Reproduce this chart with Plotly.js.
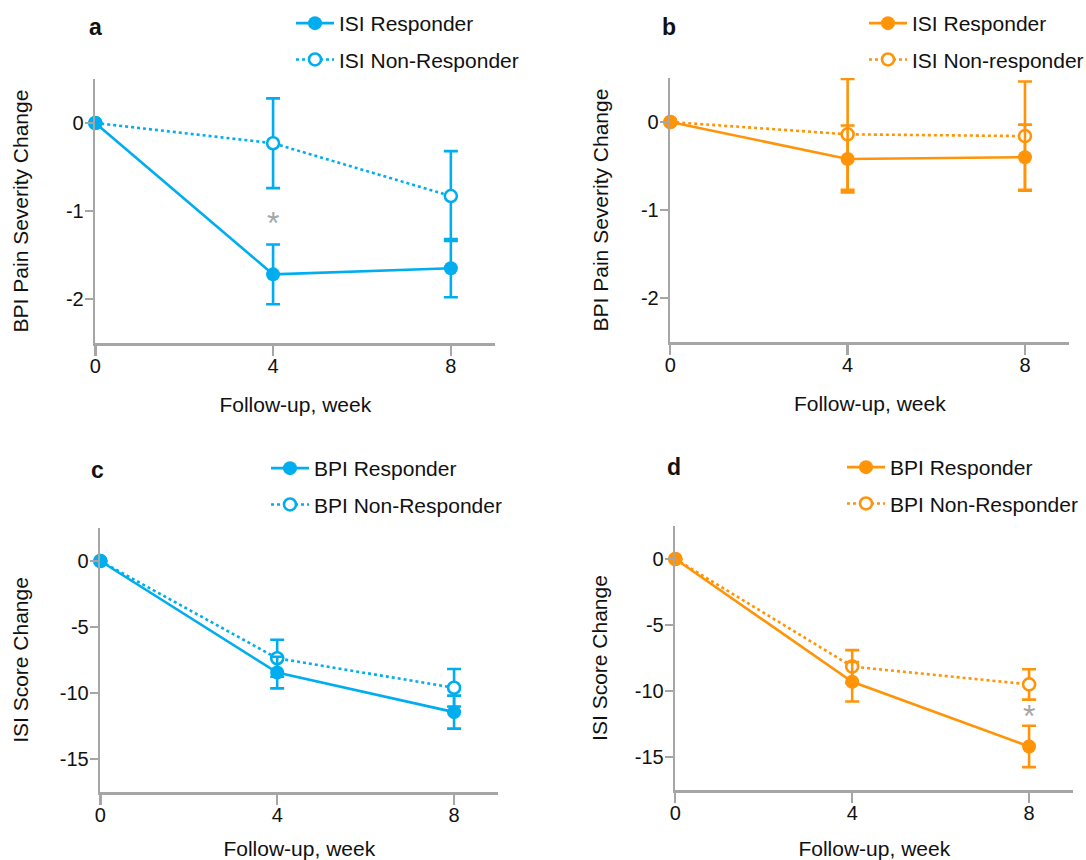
<!DOCTYPE html>
<html>
<head>
<meta charset="utf-8">
<script src="https://cdn.plot.ly/plotly-3.0.1.min.js"></script>
<style>html,body{margin:0;padding:0;background:#fff;overflow:hidden;}#chart{width:1086px;height:860px;}</style>
</head>
<body>
<div id="chart"></div>
<script>
// ---- data ----
const weeks = [0, 4, 8];
const tickWeeks = [0, 4, 8];

// a: BPI pain severity change by ISI response (blue)
const aResp = [0, -1.72, -1.65];
const aRespErr = [0, 0.34, 0.33];
const aNon = [0, -0.23, -0.83];
const aNonErr = [0, 0.51, 0.51];

// b: BPI pain severity change by ISI response (orange)
const bResp = [0, -0.42, -0.40];
const bRespErr = [0, 0.38, 0.37];
const bNon = [0, -0.14, -0.16];
const bNonErr = [0, 0.63, 0.62];

// c: ISI score change by BPI response (blue)
const cResp = [0, -8.45, -11.45];
const cRespErr = [0, 1.2, 1.25];
const cNon = [0, -7.37, -9.6];
const cNonErr = [0, 1.4, 1.42];

// d: ISI score change by BPI response (orange)
const dResp = [0, -9.3, -14.2];
const dRespErr = [0, 1.5, 1.57];
const dNon = [0, -8.15, -9.5];
const dNonErr = [0, 1.25, 1.15];

const legendNames = {
  a: ["ISI Responder", "ISI Non-Responder"],
  b: ["ISI Responder", "ISI Non-responder"],
  c: ["BPI Responder", "BPI Non-Responder"],
  d: ["BPI Responder", "BPI Non-Responder"]
};
const bpiTicks = [0, -1, -2];
const bpiTickText = ["0", "-1", "-2"];
const isiTicks = [0, -5, -10, -15];
const isiTickText = ["0", "-5", "-10", "-15"];

// significance markers
const starA = {x: 4, y: -1.14};
const starD = {x: 8, y: -11.9};

// ---- style ----
const BLUE = "#00AEEF";
const ORANGE = "#FF9408";
const GREY = "#A6A6A6";
const FONT = "Liberation Sans, Arial, Helvetica, sans-serif";
const W = 1086, H = 860;
const px = v => v / W;
const py = v => 1 - v / H;

function pair(xa, ya, leg, color, resp, respErr, non, nonErr, names) {
  const common = {
    x: weeks, xaxis: xa, yaxis: ya, legend: leg, mode: "lines+markers",
    cliponaxis: false, hoverinfo: "skip"
  };
  // non-responder drawn first so the responder sits on top; legend order kept by legendrank
  return [
    Object.assign({}, common, {
      y: non, name: names[1], legendgroup: leg + "n", legendrank: 2,
      line: {color: color, width: 2.6, dash: "dot"},
      marker: {symbol: "circle", size: 12, color: "#ffffff", line: {color: color, width: 2.6}},
      error_y: {type: "data", array: nonErr, visible: true, color: color, thickness: 2.6, width: 7}
    }),
    Object.assign({}, common, {
      y: resp, name: names[0], legendgroup: leg + "r", legendrank: 1,
      line: {color: color, width: 2.6},
      marker: {symbol: "circle", size: 14, color: color},
      error_y: {type: "data", array: respErr, visible: true, color: color, thickness: 2.6, width: 7}
    })
  ];
}

const data = [].concat(
  pair("x", "y", "legend", BLUE, aResp, aRespErr, aNon, aNonErr, legendNames.a),
  pair("x2", "y2", "legend2", ORANGE, bResp, bRespErr, bNon, bNonErr, legendNames.b),
  pair("x3", "y3", "legend3", BLUE, cResp, cRespErr, cNon, cNonErr, legendNames.c),
  pair("x4", "y4", "legend4", ORANGE, dResp, dRespErr, dNon, dNonErr, legendNames.d)
);

function xax(d0, d1, anchor) {
  return {
    domain: [px(d0), px(d1)], anchor: anchor, range: [0, 9],
    tickmode: "array", tickvals: tickWeeks, ticktext: tickWeeks.map(String),
    showline: true, linecolor: GREY, linewidth: 2.6,
    ticks: "outside", ticklen: 10, tickwidth: 2.4, tickcolor: GREY,
    ticklabelstandoff: -7,
    showgrid: false, zeroline: false, automargin: false,
    tickfont: {family: FONT, size: 20, color: "#111"},
    title: {text: "Follow-up, week", font: {family: FONT, size: 21, color: "#111"}, standoff: 22}
  };
}
function yax(d0, d1, anchor, range, tv, tt, title, so) {
  return {
    domain: [py(d1), py(d0)], anchor: anchor, range: range,
    tickmode: "array", tickvals: tv, ticktext: tt,
    showline: true, linecolor: GREY, linewidth: 2.6,
    ticks: "outside", ticklen: 8, tickwidth: 2.4, tickcolor: GREY,
    ticklabelstandoff: -3,
    showgrid: false, zeroline: false, automargin: false,
    tickfont: {family: FONT, size: 20, color: "#111"},
    title: {text: title, font: {family: FONT, size: 21, color: "#111"}, standoff: so}
  };
}
function leg(x, y) {
  return {
    x: px(x), y: py(y), xanchor: "left", yanchor: "top",
    bgcolor: "rgba(0,0,0,0)", borderwidth: 0,
    font: {family: FONT, size: 21, color: "#111"},
    itemwidth: 38, traceorder: "grouped", tracegroupgap: 6
  };
}
function letter(t, x, y) {
  return {text: "<b>" + t + "</b>", xref: "paper", yref: "paper", x: px(x), y: py(y),
    xanchor: "center", yanchor: "middle", showarrow: false,
    font: {family: FONT, size: 23, color: "#111"}};
}
function star(p, xr, yr) {
  return {text: "*", xref: xr, yref: yr, x: p.x, y: p.y, xanchor: "center", yanchor: "middle",
    showarrow: false, font: {family: FONT, size: 32, color: GREY}};
}

const layout = {
  width: W, height: H, margin: {l: 0, r: 0, t: 0, b: 0, autoexpand: false},
  paper_bgcolor: "#fff", plot_bgcolor: "#fff", showlegend: true,
  font: {family: FONT},
  xaxis: xax(95.3, 495.3, "y"),
  yaxis: yax(79, 343, "x", [-2.5, 0.5], bpiTicks, bpiTickText, "BPI Pain Severity Change", 32),
  xaxis2: xax(670.3, 1069.3, "y2"),
  yaxis2: yax(78, 342, "x2", [-2.5, 0.5], bpiTicks, bpiTickText, "BPI Pain Severity Change", 27),
  xaxis3: xax(100.3, 498.3, "y3"),
  yaxis3: yax(528, 792, "x3", [-17.5, 2.5], isiTicks, isiTickText, "ISI Score Change", 26),
  xaxis4: xax(675.3, 1073.3, "y4"),
  yaxis4: yax(526, 790, "x4", [-17.5, 2.5], isiTicks, isiTickText, "ISI Score Change", 22),
  legend: leg(291, 3),
  legend2: leg(864, 3),
  legend3: leg(266, 448),
  legend4: leg(842, 447),
  annotations: [
    letter("a", 95, 27), letter("b", 669, 27), letter("c", 97, 470), letter("d", 674, 467),
    star(starA, "x", "y"), star(starD, "x4", "y4")
  ]
};

Plotly.newPlot("chart", data, layout, {staticPlot: true, displayModeBar: false});
</script>
</body>
</html>
